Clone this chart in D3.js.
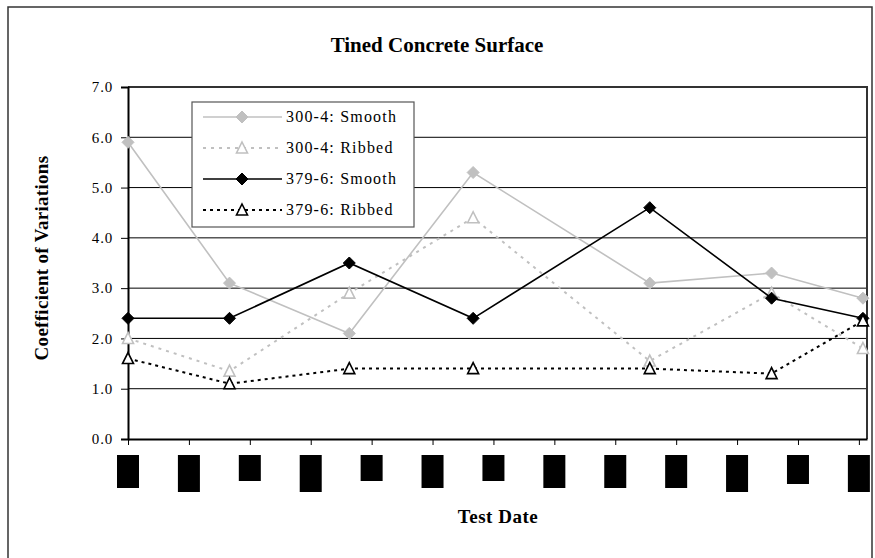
<!DOCTYPE html>
<html><head><meta charset="utf-8">
<script src="https://cdn.jsdelivr.net/npm/d3@7"></script>
<style>body{margin:0;background:#fff}svg{display:block}text{font-family:"Liberation Serif","Times New Roman",serif}</style>
</head><body><div id="c"></div>
<script>
// Test dates as day offsets (tick labels in the reference are obscured as black blocks)
const testDays = [0, 50, 109, 170, 257, 317, 362];
const smooth300 = [5.9, 3.1, 2.1, 5.3, 3.1, 3.3, 2.8];
const ribbed300 = [2.0, 1.35, 2.9, 4.4, 1.55, 2.9, 1.8];
const smooth379 = [2.4, 2.4, 3.5, 2.4, 4.6, 2.8, 2.4];
const ribbed379 = [1.6, 1.1, 1.4, 1.4, 1.4, 1.3, 2.35];
const seriesNames = ["300-4: Smooth", "300-4: Ribbed", "379-6: Smooth", "379-6: Ribbed"];
const xTickDays = d3.range(0, 361, 30);
const xTickBlockHeights = [33, 37, 26, 37, 26, 33, 26, 33, 33, 33, 37, 29, 37];
const yTicks = [0, 1, 2, 3, 4, 5, 6, 7];

const W = 875, H = 558;
const m = {left: 128, top: 87, right: 867, bottom: 439};
const svg = d3.select("#c").append("svg").attr("width", W).attr("height", H);
const FF = "Liberation Serif, Times New Roman, serif";

// outer chart frame
svg.append("rect").attr("x", 8).attr("y", 7).attr("width", 864).attr("height", 560)
  .attr("fill", "none").attr("stroke", "#333").attr("stroke-width", 1.5);

const x = d3.scaleLinear().domain([0, 364]).range([m.left, m.right]);
const y = d3.scaleLinear().domain([0, 7]).range([m.bottom, m.top]);

// gridlines
svg.append("g").selectAll("line").data(yTicks.slice(1)).join("line")
  .attr("x1", m.left).attr("x2", m.right)
  .attr("y1", d => y(d)).attr("y2", d => y(d))
  .attr("stroke", "#000").attr("stroke-width", 1);

// plot area border top/right
svg.append("path").attr("d", `M${m.left},${m.top}H${m.right}V${m.bottom}`)
  .attr("fill", "none").attr("stroke", "#333").attr("stroke-width", 2);

// y axis
const ya = svg.append("g").attr("transform", `translate(${m.left},0)`)
  .call(d3.axisLeft(y).tickValues(yTicks).tickFormat(d3.format(".1f")).tickSize(7).tickPadding(8));
ya.attr("font-family", FF).attr("font-size", 15);
ya.select(".domain").attr("stroke", "#000").attr("stroke-width", 2);
ya.selectAll(".tick line").attr("stroke", "#000");
ya.selectAll("text").attr("fill", "#000").attr("letter-spacing", 0.8);

// x axis
const xa = svg.append("g").attr("transform", `translate(0,${m.bottom})`)
  .call(d3.axisBottom(x).tickValues(xTickDays).tickFormat("").tickSize(6).tickSizeOuter(0));
xa.select(".domain").attr("stroke", "#000").attr("stroke-width", 2);
xa.selectAll(".tick line").attr("stroke", "#000");

// obscured tick labels (black blocks)
svg.append("g").selectAll("rect").data(xTickDays).join("rect")
  .attr("x", d => x(d) - 11).attr("y", 455).attr("width", 22)
  .attr("height", (d, i) => xTickBlockHeights[i]).attr("fill", "#000");

// series
const gray = "#c0c0c0";
const series = [
  {name: seriesNames[0], vals: smooth300, color: gray, dash: null, marker: "diamond", fill: gray},
  {name: seriesNames[1], vals: ribbed300, color: gray, dash: "3,5", marker: "triangle", fill: "#fff"},
  {name: seriesNames[2], vals: smooth379, color: "#000", dash: null, marker: "diamond", fill: "#000"},
  {name: seriesNames[3], vals: ribbed379, color: "#000", dash: "3,4", marker: "triangle", fill: "#fff"}
];
const line = d3.line().x(d => x(d[0])).y(d => y(d[1]));
function markerPath(type) {
  if (type === "diamond") return "M0,-6L6,0L0,6L-6,0Z";
  return "M0,-6L5.5,5L-5.5,5Z";
}
function drawMarker(g, s, cx, cy) {
  g.append("path").attr("d", markerPath(s.marker)).attr("transform", `translate(${cx},${cy})`)
    .attr("fill", s.fill).attr("stroke", s.color).attr("stroke-width", s.marker === "triangle" ? 1.6 : 1);
}
series.forEach(s => {
  const pts = testDays.map((d, i) => [d, s.vals[i]]);
  const g = svg.append("g");
  g.append("path").attr("d", line(pts)).attr("fill", "none").attr("stroke", s.color)
    .attr("stroke-width", s.dash ? 2 : 1.6).attr("stroke-dasharray", s.dash);
  pts.forEach(p => drawMarker(g, s, x(p[0]), y(p[1])));
});

// legend
const lg = svg.append("g");
lg.append("rect").attr("x", 192).attr("y", 102).attr("width", 222).attr("height", 125)
  .attr("fill", "#fff").attr("stroke", "#555").attr("stroke-width", 1.2);
series.forEach((s, i) => {
  const ly = 117 + i * 31;
  lg.append("line").attr("x1", 203).attr("x2", 282).attr("y1", ly).attr("y2", ly)
    .attr("stroke", s.color).attr("stroke-width", s.dash ? 2 : 1.6).attr("stroke-dasharray", s.dash);
  drawMarker(lg, s, 242, ly);
  lg.append("text").attr("x", 286).attr("y", ly + 5).attr("font-size", 16).attr("letter-spacing", 1.2).text(s.name);
});

// titles
svg.append("text").attr("x", 437).attr("y", 52).attr("text-anchor", "middle")
  .attr("font-size", 21).attr("font-weight", "bold").text("Tined Concrete Surface");
svg.append("text").attr("x", 498).attr("y", 523).attr("text-anchor", "middle")
  .attr("font-size", 19).attr("font-weight", "bold").attr("letter-spacing", 0.5).text("Test Date");
svg.append("text").attr("transform", "translate(48,258) rotate(-90)").attr("text-anchor", "middle")
  .attr("font-size", 19).attr("font-weight", "bold").attr("letter-spacing", 0.3).text("Coefficient of Variations");
</script></body></html>
